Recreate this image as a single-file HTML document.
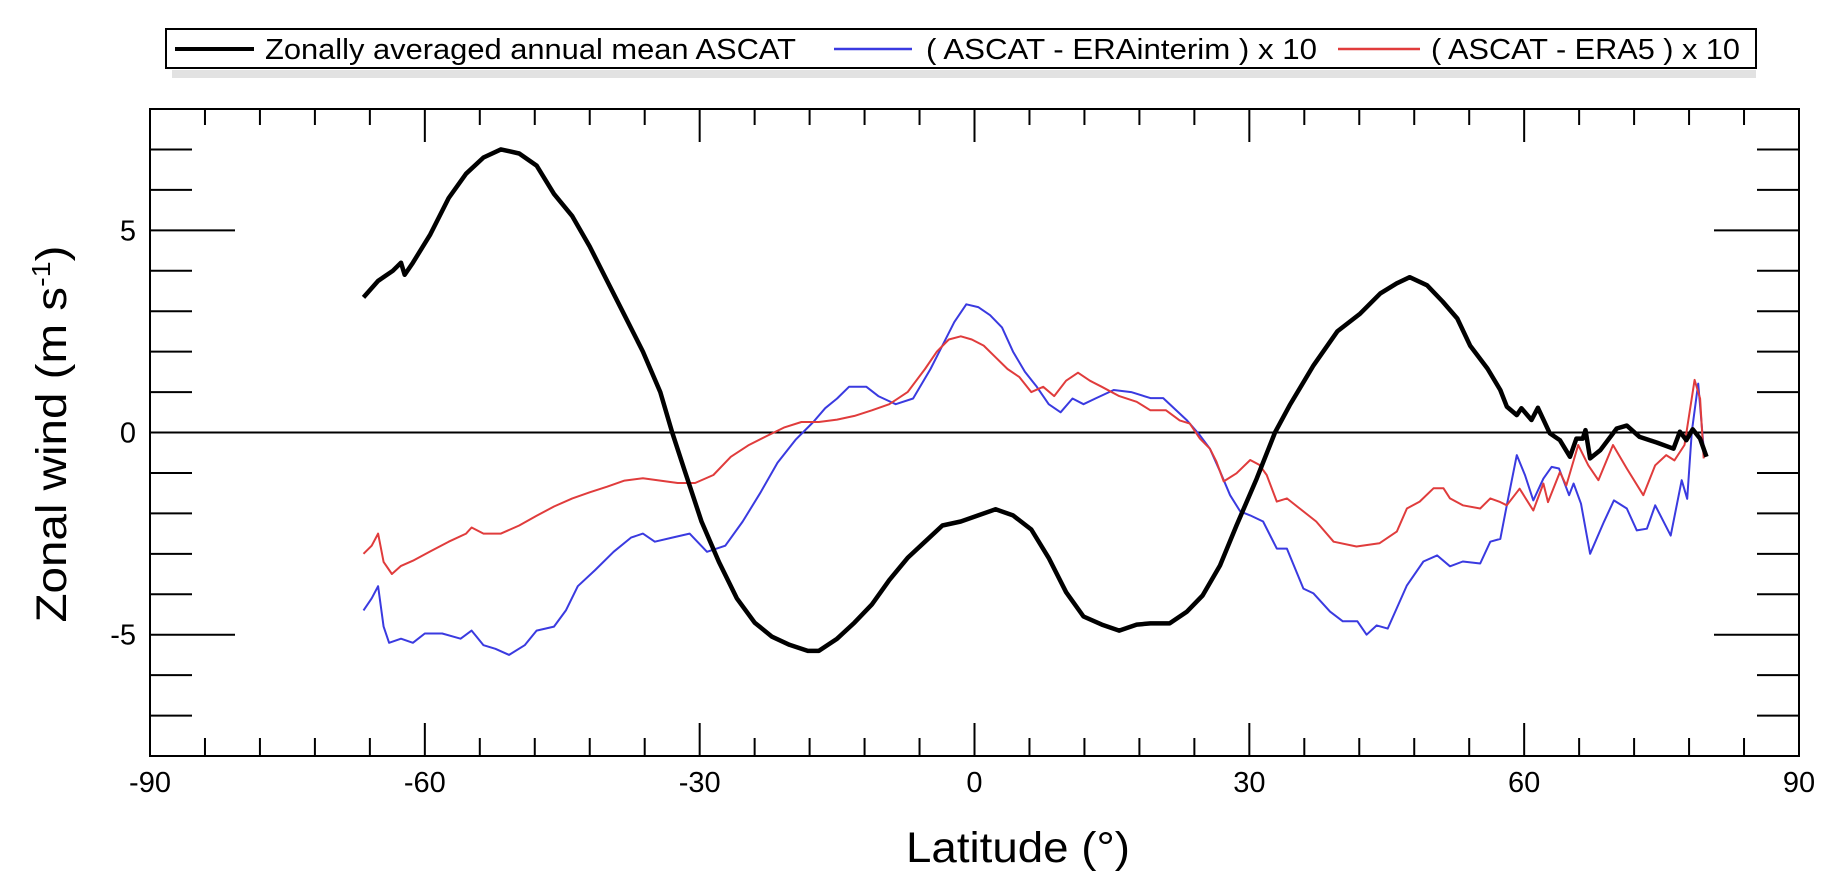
<!DOCTYPE html>
<html><head><meta charset="utf-8">
<style>
html,body{margin:0;padding:0;background:#fff;}
svg{display:block;font-family:"Liberation Sans",Arial,sans-serif;}
</style></head>
<body>
<svg id="chart" width="1846" height="887" viewBox="0 0 1846 887" xmlns="http://www.w3.org/2000/svg">
  <g>
    <rect x="172" y="70" width="1584" height="8" fill="#e2e2e2"/>
    <rect x="166" y="29" width="1590" height="39" fill="#fff" stroke="#000" stroke-width="2"/>
    <line x1="175" y1="49" x2="254" y2="49" stroke="#000" stroke-width="4"/>
    <text x="265" y="59" font-size="29" textLength="531" lengthAdjust="spacingAndGlyphs">Zonally averaged annual mean ASCAT</text>
    <line x1="834" y1="49" x2="912" y2="49" stroke="#3a3ae0" stroke-width="2.5"/>
    <text x="926" y="59" font-size="29" textLength="391" lengthAdjust="spacingAndGlyphs">( ASCAT - ERAinterim ) x 10</text>
    <line x1="1338" y1="49" x2="1420" y2="49" stroke="#e03c3c" stroke-width="2.5"/>
    <text x="1431" y="59" font-size="29" textLength="309" lengthAdjust="spacingAndGlyphs">( ASCAT - ERA5 ) x 10</text>
  </g>
  <g id="axes"></g>
  <g id="series"></g>
  <rect x="150" y="109" width="1649" height="647" fill="none" stroke="#000" stroke-width="2"/>
  <text transform="translate(66,434) rotate(-90)" text-anchor="middle" font-size="43" textLength="377" lengthAdjust="spacingAndGlyphs">Zonal wind (m s<tspan font-size="26" dy="-16">-1</tspan><tspan dy="16">)</tspan></text>
  <text x="1018" y="862" text-anchor="middle" font-size="43" textLength="224" lengthAdjust="spacingAndGlyphs">Latitude (°)</text>
</svg>
<script>
const xTicksMajor = [-90,-60,-30,0,30,60,90];
const yTickLabels = [-5,0,5];
const ascatLat = [-66.7,-65.1,-63.5,-62.6,-62.2,-61.3,-59.4,-57.4,-55.5,-53.6,-51.7,-49.7,-47.8,-45.9,-43.9,-42.0,-40.1,-38.2,-36.2,-34.3,-33.0,-31.7,-29.8,-27.9,-25.95,-24.0,-22.1,-20.2,-18.2,-17.0,-15.0,-13.1,-11.2,-9.3,-7.3,-5.4,-3.5,-1.5,0.4,2.3,4.2,6.2,8.1,10.0,11.9,13.9,15.8,17.7,19.2,21.3,23.2,24.9,26.8,28.6,30.8,32.8,34.4,37.0,39.6,42.1,44.3,46.1,47.5,49.4,51.1,52.7,54.1,56.0,57.4,58.1,59.2,59.7,60.8,61.5,62.8,63.9,65.0,65.7,66.4,66.7,67.2,68.3,70.1,71.2,72.6,74.5,76.3,77.0,77.7,78.4,79.2,79.9];
const ascatVal = [3.34,3.75,4.0,4.2,3.9,4.2,4.9,5.8,6.4,6.8,7.0,6.9,6.6,5.9,5.35,4.6,3.75,2.9,2.0,1.0,0,-0.9,-2.2,-3.2,-4.1,-4.7,-5.05,-5.25,-5.4,-5.4,-5.1,-4.7,-4.25,-3.65,-3.1,-2.7,-2.3,-2.2,-2.05,-1.9,-2.05,-2.4,-3.1,-3.95,-4.55,-4.75,-4.9,-4.75,-4.72,-4.72,-4.43,-4.03,-3.29,-2.3,-1.14,0,0.67,1.66,2.5,2.94,3.44,3.69,3.84,3.64,3.24,2.82,2.15,1.58,1.05,0.64,0.43,0.6,0.31,0.61,-0.02,-0.19,-0.6,-0.15,-0.15,0.06,-0.64,-0.44,0.1,0.17,-0.11,-0.25,-0.4,0.02,-0.19,0.08,-0.15,-0.6];
const eiLat = [-66.7,-65.8,-65.1,-64.5,-63.9,-62.6,-61.3,-60.0,-58.1,-56.1,-54.9,-53.6,-52.3,-50.8,-49.1,-47.8,-45.9,-44.6,-43.3,-41.4,-39.4,-37.5,-36.2,-34.9,-33.0,-31.1,-29.2,-27.2,-25.3,-23.4,-21.5,-19.5,-17.6,-16.3,-15.0,-13.7,-11.8,-10.5,-8.6,-6.7,-4.8,-3.5,-2.2,-0.9,0.4,1.7,3.0,4.2,5.5,6.8,8.1,9.4,10.7,11.9,13.2,15.2,17.1,19.2,20.6,23.2,24.6,25.7,26.8,27.9,29.0,30.1,31.5,33.0,34.1,35.9,37.0,38.8,40.2,41.8,42.8,43.9,45.1,47.2,49.0,50.5,51.9,53.3,55.2,56.3,57.4,58.1,59.2,60.1,61.0,62.1,63.0,63.8,64.9,65.4,66.2,67.2,68.7,69.8,71.2,72.3,73.4,74.3,76.0,77.2,77.8,78.3,79.0,79.6];
const eiVal = [-4.4,-4.1,-3.8,-4.8,-5.2,-5.1,-5.2,-4.97,-4.97,-5.1,-4.9,-5.26,-5.35,-5.5,-5.26,-4.9,-4.8,-4.4,-3.8,-3.4,-2.95,-2.6,-2.5,-2.7,-2.6,-2.5,-2.95,-2.8,-2.2,-1.5,-0.75,-0.17,0.26,0.6,0.84,1.13,1.13,0.9,0.7,0.84,1.57,2.15,2.73,3.17,3.1,2.9,2.6,2.0,1.5,1.13,0.7,0.5,0.84,0.7,0.84,1.05,1.0,0.85,0.85,0.3,-0.07,-0.4,-0.96,-1.55,-1.95,-2.05,-2.2,-2.87,-2.87,-3.86,-3.98,-4.43,-4.67,-4.67,-5.0,-4.77,-4.85,-3.78,-3.19,-3.04,-3.31,-3.19,-3.24,-2.7,-2.63,-1.8,-0.56,-1.06,-1.68,-1.14,-0.85,-0.89,-1.55,-1.26,-1.76,-3.0,-2.21,-1.68,-1.88,-2.42,-2.38,-1.8,-2.55,-1.18,-1.64,0.02,1.21,-0.4];
const e5Lat = [-66.7,-65.8,-65.1,-64.5,-63.6,-62.6,-61.3,-59.4,-57.4,-55.5,-54.9,-53.6,-51.7,-49.7,-47.8,-45.9,-43.9,-42.0,-40.1,-38.2,-36.2,-34.3,-32.4,-30.5,-28.5,-26.6,-24.7,-22.7,-20.8,-18.9,-17.0,-15.0,-13.1,-11.2,-9.3,-7.3,-5.4,-4.1,-2.8,-1.5,-0.3,1.0,2.3,3.6,4.9,6.2,7.5,8.7,10.0,11.3,12.6,13.9,15.8,17.7,19.2,20.9,22.4,23.5,24.6,25.7,26.4,27.2,28.6,30.1,31.1,31.9,33.0,34.1,35.5,37.3,39.2,41.7,44.2,46.1,47.2,48.6,50.1,51.2,51.9,53.3,55.2,56.3,57.4,58.1,59.5,61.0,62.1,62.6,63.9,64.6,65.9,67.0,68.1,69.7,71.2,73.0,74.3,75.5,76.4,77.5,78.6,79.2,79.6];
const e5Val = [-3.0,-2.8,-2.5,-3.2,-3.5,-3.3,-3.17,-2.94,-2.7,-2.5,-2.35,-2.5,-2.5,-2.3,-2.06,-1.83,-1.63,-1.48,-1.34,-1.19,-1.13,-1.19,-1.25,-1.25,-1.05,-0.6,-0.32,-0.09,0.12,0.26,0.26,0.32,0.41,0.55,0.7,1.0,1.57,2.0,2.3,2.38,2.3,2.15,1.86,1.57,1.37,1.0,1.13,0.9,1.28,1.48,1.28,1.13,0.9,0.76,0.55,0.55,0.3,0.22,-0.15,-0.4,-0.72,-1.21,-1.01,-0.68,-0.8,-1.05,-1.71,-1.63,-1.88,-2.2,-2.7,-2.82,-2.74,-2.45,-1.88,-1.71,-1.38,-1.38,-1.63,-1.8,-1.88,-1.63,-1.72,-1.8,-1.39,-1.93,-1.26,-1.72,-0.98,-1.31,-0.31,-0.81,-1.18,-0.31,-0.89,-1.55,-0.81,-0.56,-0.69,-0.31,1.3,0.84,-0.64];

const NS='http://www.w3.org/2000/svg';
const L=150,R=1799,T=109,B=756;
function xs(v){return L+(v+90)/180*(R-L);}
function ys(v){return T+(8-v)/16*(B-T);}
const axes=document.getElementById('axes');
function mk(tag,attrs,parent){const e=document.createElementNS(NS,tag);for(const k in attrs)e.setAttribute(k,attrs[k]);parent.appendChild(e);return e;}

for(let v=-7;v<=7;v++){
  const maj=yTickLabels.includes(v);
  const len=maj?85:42;
  const t1=mk('line',{x1:L,x2:L+len,y1:ys(v),y2:ys(v),stroke:'#000','stroke-width':2},axes);
  
  
  const t2=mk('line',{x1:R,x2:R-len,y1:ys(v),y2:ys(v),stroke:'#000','stroke-width':2},axes);
  
  
}
yTickLabels.forEach(v=>{
  const t=mk('text',{x:136,y:ys(v)+10,'text-anchor':'end','font-size':29},axes);
  t.textContent=String(v);
  
  
});
for(let v=-84;v<=84;v+=6){
  const maj=xTicksMajor.includes(v);
  const b=mk('line',{x1:xs(v),x2:xs(v),y1:B,y2:B-(maj?33:18),stroke:'#000','stroke-width':2},axes);
  
  
  const t=mk('line',{x1:xs(v),x2:xs(v),y1:T,y2:T+(maj?33:16),stroke:'#000','stroke-width':2},axes);
  
  
}
xTicksMajor.forEach(v=>{
  const t=mk('text',{x:xs(v),y:792,'text-anchor':'middle','font-size':29},axes);
  t.textContent=String(v);
  
  
});
const zl=mk('line',{x1:L,x2:R,y1:ys(0),y2:ys(0),stroke:'#000','stroke-width':2},axes);



const series=document.getElementById('series');
function draw(lat,val,color,w,name){
  const pts=lat.map((x,i)=>xs(x).toFixed(1)+','+ys(val[i]).toFixed(1)).join(' ');
  const p=mk('polyline',{points:pts,fill:'none',stroke:color,'stroke-width':w,'stroke-linejoin':'round'},series);
  
  
}
draw(eiLat,eiVal,'#3a3ae0',2,'line-ascat-minus-erainterim');
draw(e5Lat,e5Val,'#e03c3c',2,'line-ascat-minus-era5');
draw(ascatLat,ascatVal,'#000',4.5,'line-ascat-zonal-mean');
</script>
</body></html>
